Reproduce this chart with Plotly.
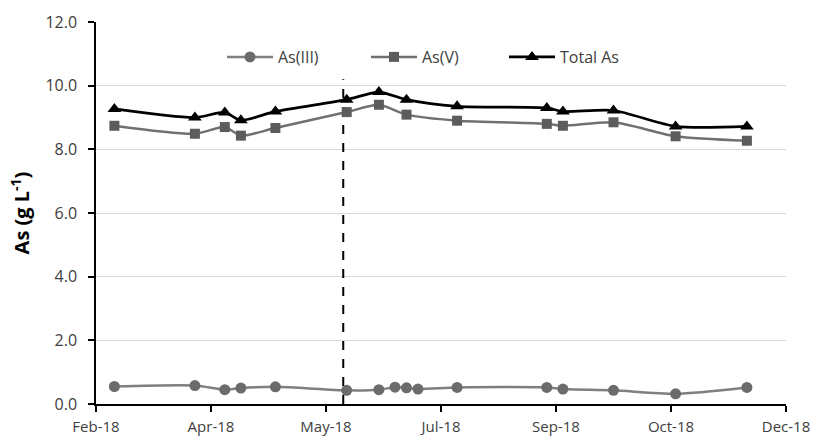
import plotly.graph_objects as go

# Sampling dates (all species) and arsenic concentrations (g/L)
dates_as3 = ["2018-02-23", "2018-03-30", "2018-04-12", "2018-04-19", "2018-05-04",
             "2018-06-04", "2018-06-18", "2018-06-25", "2018-06-30", "2018-07-05",
             "2018-07-22", "2018-08-30", "2018-09-06", "2018-09-28", "2018-10-25",
             "2018-11-25"]
as3 = [0.55, 0.58, 0.45, 0.50, 0.54, 0.43, 0.45, 0.53, 0.51, 0.47,
       0.52, 0.52, 0.47, 0.43, 0.32, 0.52]

dates_as5 = ["2018-02-23", "2018-03-30", "2018-04-12", "2018-04-19", "2018-05-04",
             "2018-06-04", "2018-06-18", "2018-06-30", "2018-07-22", "2018-08-30",
             "2018-09-06", "2018-09-28", "2018-10-25", "2018-11-25"]
as5 = [8.74, 8.49, 8.70, 8.43, 8.67, 9.17, 9.40, 9.09, 8.90, 8.80,
       8.74, 8.85, 8.41, 8.27]
total_as = [9.27, 9.00, 9.16, 8.91, 9.19, 9.56, 9.80, 9.56, 9.35, 9.30,
            9.19, 9.22, 8.72, 8.72]

# Event marker (vertical dashed line)
event_date = ["2018-06-02 12:00", "2018-06-02 12:00"]
event_y = [0.0, 10.2]

x_start, x_end = "2018-02-15", "2018-12-12"
DAY_MS = 86400000

fig = go.Figure()

fig.add_trace(go.Scatter(
    x=event_date, y=event_y, mode="lines", showlegend=False, hoverinfo="skip",
    line=dict(color="black", width=2, dash="dash"),
))

fig.add_trace(go.Scatter(
    x=dates_as3, y=as3, name="As(III)", mode="lines+markers",
    line=dict(color="#7f7f7f", width=2.5, shape="spline", smoothing=0.7),
    marker=dict(symbol="circle", size=11, color="#6b6b6b"),
    legend="legend",
))
fig.add_trace(go.Scatter(
    x=dates_as5, y=as5, name="As(V)", mode="lines+markers",
    line=dict(color="#707070", width=2.5, shape="spline", smoothing=0.7),
    marker=dict(symbol="square", size=10, color="#5c5c5c"),
    legend="legend2",
))
fig.add_trace(go.Scatter(
    x=dates_as5, y=total_as, name="Total As", mode="lines+markers",
    line=dict(color="black", width=2.75, shape="spline", smoothing=0.7),
    marker=dict(symbol="triangle-up", size=12, color="black"),
    legend="legend3",
))

ytick_font = dict(family="Open Sans, sans-serif", size=16, color="#404040")
xtick_font = dict(family="Open Sans, sans-serif", size=15, color="#404040")
leg_font = dict(family="Open Sans, sans-serif", size=16, color="#404040")

W, H = 813, 436
ml, mr, mt, mb = 96, 27, 22, 32
pw, ph = W - ml - mr, H - mt - mb

def px_to_paper_x(px):
    return (px - ml) / pw

def py_to_paper_y(py):
    return (H - mb - py) / ph

legends = {}
for key, px in (("legend", 222), ("legend2", 366), ("legend3", 504)):
    legends[key] = dict(
        x=px_to_paper_x(px), y=py_to_paper_y(57), xref="paper", yref="paper",
        xanchor="left", yanchor="middle", orientation="h",
        bgcolor="rgba(0,0,0,0)", font=leg_font, itemwidth=46,
    )

axis_common = dict(
    zeroline=False, automargin=False,
    showline=True, linecolor="black", linewidth=1.5,
    ticks="outside", ticklen=6, tickcolor="black", tickwidth=1.5,
)

fig.update_layout(
    width=W, height=H,
    margin=dict(l=ml, r=mr, t=mt, b=mb),
    paper_bgcolor="white", plot_bgcolor="white",
    **legends,
    xaxis=dict(
        type="date", range=[x_start, x_end],
        tick0=x_start, dtick=50 * DAY_MS, tickformat="%b-%y",
        showgrid=False, ticklabelstandoff=2, tickfont=xtick_font,
        **axis_common,
    ),
    yaxis=dict(
        range=[0, 12], dtick=2, tickformat=".1f",
        showgrid=True, gridcolor="#d9d9d9", gridwidth=1,
        ticklabelstandoff=8, tickfont=ytick_font,
        title=dict(text="<b>As (g L<sup>-1</sup>)</b>",
                   font=dict(family="Open Sans, sans-serif", size=20, color="black"),
                   standoff=10),
        **axis_common,
    ),
)

fig.write_html("out.html")
